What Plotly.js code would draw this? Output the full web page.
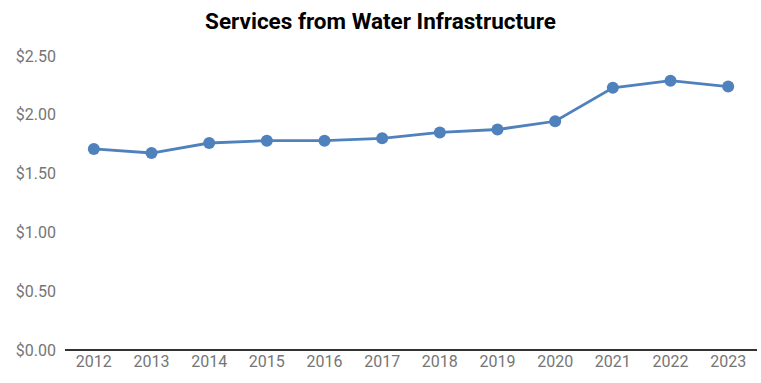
<!DOCTYPE html>
<html>
<head>
<meta charset="utf-8">
<script src="https://cdn.plot.ly/plotly-3.0.1.min.js"></script>
<style>html,body{margin:0;padding:0;background:#fff;}#chart{width:761px;height:383px;}</style>
</head>
<body>
<div id="chart"></div>
<script>
const years = ["2012","2013","2014","2015","2016","2017","2018","2019","2020","2021","2022","2023"];
const values = [1.71, 1.675, 1.76, 1.78, 1.78, 1.80, 1.85, 1.875, 1.945, 2.23, 2.29, 2.24];
const yTicks = [0, 0.5, 1, 1.5, 2, 2.5];
const yTickLabels = ["$0.00", "$0.50", "$1.00", "$1.50", "$2.00", "$2.50"];

const trace = {
  x: years, y: values, type: "scatter", mode: "lines+markers",
  line: {color: "#4F81BD", width: 2.8},
  marker: {color: "#4F81BD", size: 12},
  hoverinfo: "x+y"
};
const layout = {
  width: 761, height: 383,
  margin: {l: 65, r: 4, t: 56, b: 33},
  paper_bgcolor: "#fff", plot_bgcolor: "#fff",
  showlegend: false,
  font: {family: "Roboto, sans-serif", color: "#757575", size: 16},
  title: {text: "<b>Services from Water Infrastructure</b>", font: {family: "Roboto, sans-serif", size: 22.5, color: "#000"}, x: 0.5, xanchor: "center", y: 0.945, yanchor: "middle"},
  xaxis: {type: "category", range: [-0.5, 11.5], showgrid: false, zeroline: false, showline: false, ticks: "", tickfont: {size: 16, color: "#757575"}, fixedrange: true},
  yaxis: {range: [0, 2.5], tickvals: yTicks, ticktext: yTickLabels, showgrid: false, zeroline: true, zerolinecolor: "#333", zerolinewidth: 2, showline: false, ticks: "", ticklabelstandoff: 8, tickfont: {size: 16, color: "#757575"}, fixedrange: true}
};
Plotly.newPlot("chart", [trace], layout, {displayModeBar: false, staticPlot: true});
</script>
</body>
</html>
